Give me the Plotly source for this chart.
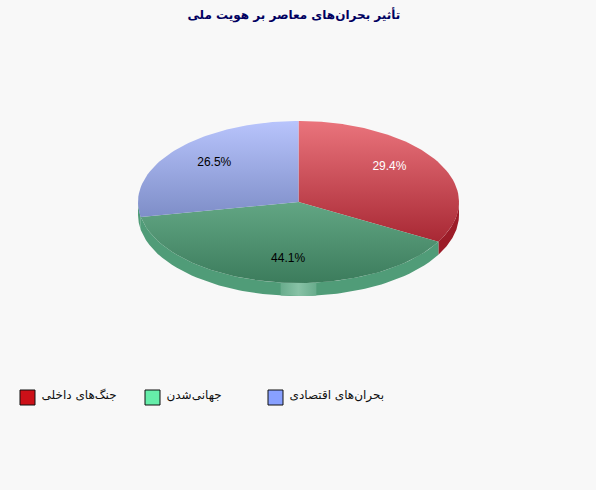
import numpy as np
import plotly.graph_objects as go

# chart data
title = "تأثیر بحران‌های معاصر بر هویت ملی"
labels = ["جنگ‌های داخلی", "جهانی‌شدن", "بحران‌های اقتصادی"]
percents = [29.4, 44.1, 26.5]

# styles
legend_colors = ["#cc1018", "#66eeaa", "#88a0ff"]
top_gradients = [
    ["#ea747c", "#a82834"],
    ["#62a684", "#3c7c5c"],
    ["#b8c4fc", "#7e8ec8"],
]
# the blue wall is only a sliver at the left edge, it reads as green there
side_colors = ["#9c1c28", "#509c78", "#509c78"]
text_colors = ["white", "black", "black"]

WIDTH, HEIGHT = 596, 490
CX, CY = 298.5, 202
RX, RY = 160.5, 81
DEPTH = 13
LABEL_R = 0.71
LEGEND_Y = 397.5
legend_x = [27.5, 152.5, 275.5]
FONT = "DejaVu Sans"


def rim(a0, a1, n=80):
    """Points on the ellipse for clockwise screen angles (degrees from 12 o'clock)."""
    t = np.radians(np.linspace(a0, a1, n))
    r = 1 / np.sqrt((np.sin(t) / RX) ** 2 + (np.cos(t) / RY) ** 2)
    return CX + r * np.sin(t), CY - r * np.cos(t)


fig = go.Figure()

edges = np.concatenate([[0], np.cumsum(percents) / np.sum(percents) * 360])

# side wall, only the front half of the ellipse shows
for i in range(len(percents)):
    a0, a1 = max(edges[i], 90), min(edges[i + 1], 270)
    if a1 <= a0:
        continue
    x, y = rim(a0, a1)
    fig.add_trace(go.Scatter(
        x=np.concatenate([x, x[::-1]]),
        y=np.concatenate([y, y[::-1] + DEPTH]),
        mode="lines", fill="toself", fillcolor=side_colors[i],
        line=dict(width=0), hoverinfo="skip", showlegend=False,
    ))

# light patch on the front of the wall
x, y = rim(167.5, 192.5, 20)
fig.add_trace(go.Scatter(
    x=np.concatenate([x, x[::-1]]),
    y=np.concatenate([y, y[::-1] + DEPTH]),
    mode="lines", fill="toself",
    fillgradient=dict(
        type="horizontal", start=x.min(), stop=x.max(),
        colorscale=[[0, "#68ac8c"], [0.5, "#88c2a6"], [1, "#68ac8c"]],
    ),
    line=dict(width=0), hoverinfo="skip", showlegend=False,
))

# top face, each slice has its gradient over its own height
for i in range(len(percents)):
    x, y = rim(edges[i], edges[i + 1])
    x = np.concatenate([[CX], x, [CX]])
    y = np.concatenate([[CY], y, [CY]])
    fig.add_trace(go.Scatter(
        x=x, y=y,
        mode="lines", fill="toself",
        fillgradient=dict(
            type="vertical", start=y.min(), stop=y.max(),
            colorscale=[[0, top_gradients[i][0]], [1, top_gradients[i][1]]],
        ),
        line=dict(width=0), name=labels[i], showlegend=False,
    ))

# percent labels
mid = np.radians((edges[:-1] + edges[1:]) / 2)
fig.add_trace(go.Scatter(
    x=CX + LABEL_R * RX * np.sin(mid),
    y=CY - LABEL_R * RY * np.cos(mid),
    mode="text",
    text=[f"{p:.1f}%" for p in percents],
    textfont=dict(family="Liberation Sans", size=12, color=text_colors),
    hoverinfo="skip", showlegend=False,
))

# legend row
fig.add_trace(go.Scatter(
    x=legend_x, y=[LEGEND_Y] * len(labels),
    mode="markers",
    marker=dict(symbol="square", size=15, color=legend_colors,
                line=dict(color="#101010", width=1)),
    hoverinfo="skip", showlegend=False,
))
fig.add_trace(go.Scatter(
    x=[v + 14 for v in legend_x], y=[LEGEND_Y - 2] * len(labels),
    mode="text", text=labels, textposition="middle right",
    textfont=dict(family=FONT, size=12, color="#101010"),
    hoverinfo="skip", showlegend=False,
))

fig.update_layout(
    width=WIDTH, height=HEIGHT,
    margin=dict(l=0, r=0, t=0, b=0),
    paper_bgcolor="#f8f8f8", plot_bgcolor="#f8f8f8",
    title=dict(text=title, x=0.493, xanchor="center", y=0.97, yanchor="middle",
               font=dict(family=FONT, size=12, color="#000060", weight="bold")),
    xaxis=dict(range=[0, WIDTH], visible=False, fixedrange=True),
    yaxis=dict(range=[HEIGHT, 0], visible=False, fixedrange=True),
)

# the page default leaves an 8px white border round the plot
fig.write_html("out.html", config={"displayModeBar": False},
               post_script="document.body.style.margin = '0';")
